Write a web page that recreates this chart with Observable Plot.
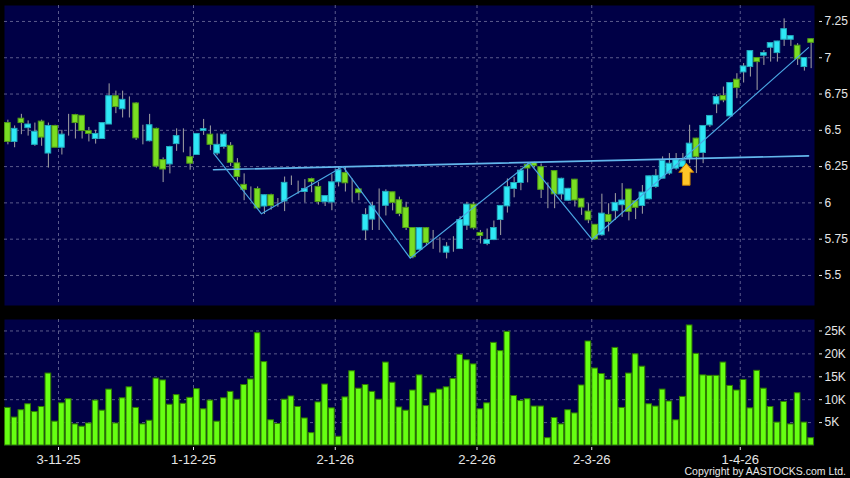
<!DOCTYPE html>
<html>
<head>
<meta charset="utf-8">
<script src="https://cdn.jsdelivr.net/npm/d3@7"></script>
<script src="https://cdn.jsdelivr.net/npm/@observablehq/plot@0.6"></script>
<style>
  html, body { margin: 0; padding: 0; background: #000; }
  #chart { position: relative; width: 850px; height: 478px; background: #000; overflow: hidden; }
  #chart svg { display: block; }
  #copy { position: absolute; right: 4px; top: 465px; font: 10.5px "Liberation Sans", Arial, sans-serif; color: #e8e8e8; line-height: 12px; white-space: nowrap; }
</style>
</head>
<body>
<div id="chart"><div id="copy">Copyright by AASTOCKS.com Ltd.</div></div>
<script>
// ---- data (one entry per trading day, left to right) ----
const open = [
6.55, 6.42, 6.58, 6.515, 6.40, 6.56, 6.34, 6.53, 6.38, 6.535,
6.605, 6.60, 6.495, 6.44, 6.44, 6.54, 6.735, 6.645, 6.69, 6.685,
6.445, 6.425, 6.51, 6.295, 6.265, 6.405, 6.44, 6.315, 6.33, 6.495,
6.47, 6.34, 6.385, 6.393, 6.272, 6.124, 6.08, 6.095, 5.975, 6.053,
5.997, 6.01, 6.16, 6.107, 6.075, 6.164, 6.11, 6.005, 6.003, 6.142,
6.205, 6.092, 6.093, 5.81, 5.885, 5.976, 5.98, 6.073, 6.018, 5.966,
5.827, 5.677, 5.826, 5.724, 5.694, 5.657, 5.705, 5.682, 5.843, 5.988,
5.793, 5.717, 5.744, 5.882, 5.976, 6.096, 6.137, 6.262, 6.276, 6.246,
6.057, 6.219, 6.058, 6.015, 6.16, 6.028, 5.94, 5.849, 5.777, 5.917,
5.943, 5.984, 6.092, 6.011, 5.979, 6.025, 6.11, 6.167, 6.202, 6.236,
6.248, 6.305, 6.443, 6.344, 6.534, 6.679, 6.736, 6.596, 6.849, 6.899,
6.936, 6.998, 7.014, 7.069, 7.032, 7.124, 7.124, 7.083, 6.936, 7.128];
const high = [
6.57, 6.53, 6.61, 6.565, 6.55, 6.57, 6.55, 6.535, 6.50, 6.61,
6.61, 6.60, 6.52, 6.50, 6.55, 6.82, 6.77, 6.77, 6.73, 6.69,
6.535, 6.61, 6.515, 6.31, 6.39, 6.51, 6.51, 6.385, 6.475, 6.575,
6.53, 6.475, 6.485, 6.415, 6.305, 6.20, 6.11, 6.11, 6.055, 6.06,
6.03, 6.178, 6.185, 6.15, 6.16, 6.17, 6.14, 6.05, 6.195, 6.248,
6.245, 6.165, 6.093, 5.96, 6.005, 6.096, 6.09, 6.073, 6.04, 6.004,
5.83, 5.828, 5.83, 5.81, 5.76, 5.726, 5.767, 5.905, 6.004, 6.004,
5.81, 5.82, 5.875, 5.98, 6.165, 6.176, 6.234, 6.27, 6.28, 6.268,
6.138, 6.22, 6.17, 6.10, 6.162, 6.03, 5.994, 5.851, 6.06, 5.994,
6.064, 6.133, 6.093, 6.012, 6.12, 6.185, 6.23, 6.317, 6.34, 6.34,
6.34, 6.535, 6.445, 6.532, 6.60, 6.745, 6.798, 6.827, 6.89, 6.96,
7.047, 7.0, 7.05, 7.102, 7.113, 7.268, 7.15, 7.097, 6.999, 7.13];
const low = [
6.40, 6.38, 6.47, 6.46, 6.39, 6.39, 6.24, 6.38, 6.33, 6.46,
6.44, 6.44, 6.42, 6.405, 6.44, 6.54, 6.615, 6.585, 6.585, 6.43,
6.40, 6.42, 6.24, 6.14, 6.20, 6.355, 6.345, 6.225, 6.33, 6.465,
6.36, 6.325, 6.37, 6.25, 6.152, 6.015, 6.015, 5.96, 5.92, 5.95,
5.97, 5.94, 6.12, 6.06, 6.0, 6.07, 5.985, 5.975, 5.946, 6.11,
6.075, 6.0, 6.015, 5.74, 5.81, 5.81, 5.91, 5.945, 5.905, 5.81,
5.615, 5.67, 5.705, 5.68, 5.655, 5.614, 5.66, 5.68, 5.81, 5.813,
5.717, 5.705, 5.74, 5.775, 5.93, 6.035, 6.084, 6.138, 6.24, 6.03,
5.96, 5.96, 6.02, 6.01, 5.972, 5.914, 5.857, 5.745, 5.77, 5.80,
5.88, 5.90, 5.876, 5.885, 5.922, 6.02, 6.10, 6.165, 6.19, 6.225,
6.24, 6.27, 6.202, 6.27, 6.52, 6.615, 6.69, 6.595, 6.718, 6.826,
6.867, 6.775, 6.947, 6.97, 6.97, 7.078, 7.078, 6.947, 6.908, 6.925];
const close = [
6.42, 6.51, 6.55, 6.54, 6.49, 6.45, 6.53, 6.38, 6.47, 6.535,
6.55, 6.495, 6.475, 6.475, 6.55, 6.735, 6.66, 6.71, 6.69, 6.445,
6.445, 6.535, 6.25, 6.23, 6.385, 6.46, 6.44, 6.27, 6.475, 6.508,
6.40, 6.40, 6.47, 6.276, 6.178, 6.09, 6.08, 5.962, 6.053, 5.978,
5.997, 6.138, 6.16, 6.107, 6.096, 6.143, 6.006, 6.047, 6.142, 6.225,
6.135, 6.092, 6.067, 5.917, 5.976, 5.976, 6.076, 6.0, 5.924, 5.827,
5.626, 5.826, 5.724, 5.724, 5.694, 5.698, 5.705, 5.882, 5.988, 5.825,
5.772, 5.744, 5.827, 5.979, 6.108, 6.137, 6.222, 6.237, 6.253, 6.09,
6.057, 6.059, 6.166, 6.097, 6.017, 5.968, 5.88, 5.748, 5.926, 5.869,
6.0, 6.016, 5.938, 5.966, 6.071, 6.183, 6.186, 6.289, 6.27, 6.294,
6.287, 6.408, 6.317, 6.53, 6.599, 6.729, 6.706, 6.826, 6.791, 6.94,
7.046, 6.97, 7.032, 7.101, 7.112, 7.197, 7.149, 6.99, 6.998, 7.103];
const volume = [
8200, 6100, 7700, 9000, 7300, 8400, 15700, 5200, 9200, 10100,
4600, 4100, 4800, 9800, 7600, 12200, 4800, 10300, 12700, 8200,
4600, 5400, 14600, 14200, 8900, 11000, 9100, 10400, 12300, 7900,
9800, 5200, 10300, 11700, 10000, 13200, 14400, 24500, 18200, 5500,
4700, 10000, 10700, 8400, 5900, 2700, 9400, 13300, 8100, 1900,
10500, 16200, 12400, 13200, 11700, 10000, 18100, 13700, 8300, 7600,
12000, 15300, 8600, 11400, 12200, 12700, 14500, 19800, 18600, 17700,
7900, 9200, 22400, 20600, 24800, 10800, 9700, 10100, 8500, 8500,
1600, 6000, 4600, 7700, 7000, 13100, 22700, 16800, 15600, 14300,
21300, 8200, 15700, 19900, 17200, 9000, 8500, 12200, 9600, 5500,
10600, 26200, 20000, 15300, 15200, 15200, 18100, 13000, 12000, 14300,
8100, 16300, 12400, 8400, 5000, 9500, 4600, 11400, 5000, 1600];

// date ticks: bar index of the labelled day, and its label
const dateTickIndex = [7, 27, 48, 69, 86, 108];
const dateTickLabels = ["3-11-25", "1-12-25", "2-1-26", "2-2-26", "2-3-26", "1-4-26"];
const priceTicks = [5.5, 5.75, 6, 6.25, 6.5, 6.75, 7, 7.25];
const priceTickLabels = ["5.5", "5.75", "6", "6.25", "6.5", "6.75", "7", "7.25"];
const volumeTicks = [5000, 10000, 15000, 20000, 25000];
const volumeTickLabels = ["5K", "10K", "15K", "20K", "25K"];

// drawn pattern (bar index, price)
const patternIndex = [30.51, 37.57, 49.65, 59.6, 77.28, 86.54, 118.61];
const patternPrice = [6.34, 5.925, 6.25, 5.619, 6.276, 5.748, 7.07];
const necklineIndex = [30.46, 118.61];
const necklinePrice = [6.228, 6.324];
const signalIndex = [100.5];
const signalPrice = [6.273];

// ---- build ----
const bars = open.map((o, i) => ({i, open: o, high: high[i], low: low[i], close: close[i], volume: volume[i]}));
const pattern = patternIndex.map((x, k) => ({x, p: patternPrice[k]}));
const neckline = necklineIndex.map((x, k) => ({x, p: necklinePrice[k]}));
const signal = signalIndex.map((x, k) => ({x, p: signalPrice[k]}));
const gridPos = dateTickIndex.map(i => i + 0.5);
const dateLabelAt = new Map(gridPos.map((g, k) => [g, dateTickLabels[k]]));
const priceLabelAt = new Map(priceTicks.map((v, k) => [v, priceTickLabels[k]]));
const volLabelAt = new Map(volumeTicks.map((v, k) => [v, volumeTickLabels[k]]));

const panelBg = "#000046";
const gridColor = "#6a6a98";
const upFill = "#2ee8f6", upStroke = "#23a9bd";
const dnFill = "#7ade22", dnStroke = "#4f9a18";
const dojiStroke = "#b4b4b4";
const kind = d => d.close > d.open ? 1 : d.close < d.open ? -1 : 0;
const xDomain = [-0.5, 119.5];
const half = 0.42;

const arrowSymbol = {
  draw(ctx) {
    ctx.moveTo(0, 0);
    ctx.lineTo(7.5, 9);
    ctx.lineTo(3.8, 9);
    ctx.lineTo(3.8, 22);
    ctx.lineTo(-3.8, 22);
    ctx.lineTo(-3.8, 9);
    ctx.lineTo(-7.5, 9);
    ctx.closePath();
  }
};

const style = {background: "transparent", color: "#e6e6e6", fontFamily: "'Liberation Sans', Arial, sans-serif", fontSize: "12px"};

const upper = Plot.plot({
  width: 850, height: 312,
  marginTop: 5, marginBottom: 7, marginLeft: 4, marginRight: 36,
  style,
  x: {domain: xDomain, axis: null},
  y: {domain: [5.293, 7.36]},
  marks: [
    Plot.frame({fill: panelBg, stroke: "none"}),
    Plot.gridY(priceTicks, {stroke: gridColor, strokeOpacity: 0.85, strokeDasharray: "3,3"}),
    Plot.gridX(gridPos, {stroke: gridColor, strokeOpacity: 0.85, strokeDasharray: "3,3"}),
    Plot.axisY(priceTicks, {anchor: "right", tickSize: 3, tickPadding: 3, dx: 4, label: null,
      tickFormat: d => priceLabelAt.get(d), color: "#e6e6e6", fontSize: 12}),
    Plot.ruleX(bars, {x: "i", y1: "low", y2: "high", stroke: "#a4a4a4", strokeWidth: 1}),
    Plot.rect(bars, {
      x1: d => d.i - half, x2: d => d.i + half,
      y1: d => Math.min(d.open, d.close), y2: d => Math.max(d.open, d.close),
      fill: d => kind(d) > 0 ? upFill : kind(d) < 0 ? dnFill : dojiStroke,
      stroke: d => kind(d) > 0 ? upStroke : kind(d) < 0 ? dnStroke : dojiStroke,
      strokeWidth: 1
    }),
    Plot.line(neckline, {x: "x", y: "p", stroke: "#62b6ec", strokeWidth: 1.6}),
    Plot.line(pattern, {x: "x", y: "p", stroke: "#4aa6e2", strokeWidth: 1.2}),
    Plot.dot(signal, {x: "x", y: "p", symbol: arrowSymbol, r: 5, fill: "#ffc528", stroke: "#c07c00", strokeWidth: 1})
  ]
});

const lower = Plot.plot({
  width: 850, height: 166,
  marginTop: 7, marginBottom: 33, marginLeft: 4, marginRight: 36,
  style,
  x: {domain: xDomain},
  y: {domain: [0, 27500]},
  marks: [
    Plot.frame({fill: panelBg, stroke: "none"}),
    Plot.gridY(volumeTicks, {stroke: gridColor, strokeOpacity: 0.85, strokeDasharray: "3,3"}),
    Plot.gridX(gridPos, {stroke: gridColor, strokeOpacity: 0.85, strokeDasharray: "3,3"}),
    Plot.rect(bars, {x1: d => d.i - half, x2: d => d.i + half, y1: 0, y2: "volume",
      fill: "#66ff12", stroke: "#2f7d00", strokeWidth: 1}),
    Plot.axisY(volumeTicks, {anchor: "right", tickSize: 3, tickPadding: 3, dx: 4, label: null,
      tickFormat: d => volLabelAt.get(d), color: "#e6e6e6", fontSize: 12}),
    Plot.axisX(gridPos, {anchor: "bottom", tickSize: 3, tickPadding: 4, dy: 2, label: null,
      tickFormat: d => dateLabelAt.get(d), color: "#e6e6e6", fontSize: 13})
  ]
});

const chart = document.getElementById("chart");
chart.insertBefore(lower, chart.firstChild);
chart.insertBefore(upper, chart.firstChild);
</script>
</body>
</html>
